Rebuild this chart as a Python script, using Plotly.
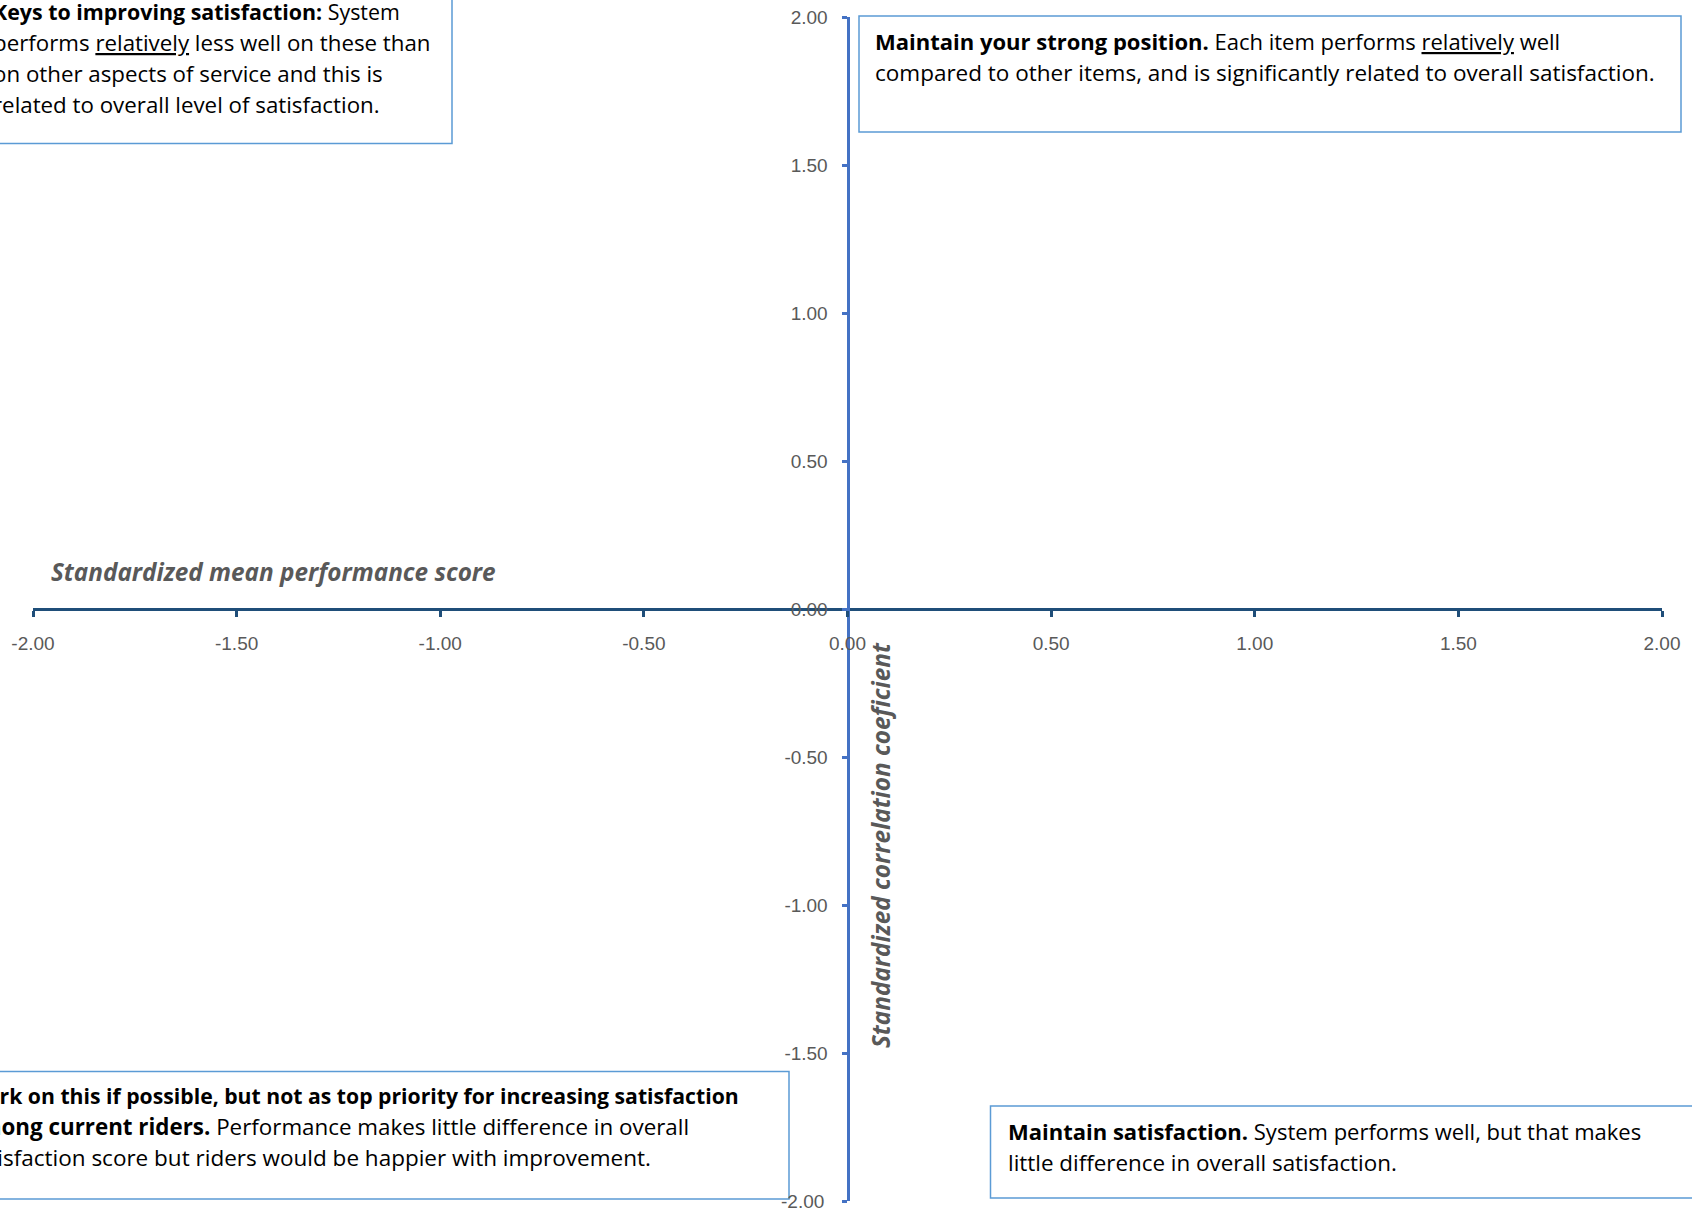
import plotly.graph_objects as go

# Axis scales: standardized scores on both axes
x_ticks = [-2.0, -1.5, -1.0, -0.5, 0.0, 0.5, 1.0, 1.5, 2.0]
y_ticks = [-2.0, -1.5, -1.0, -0.5, 0.0, 0.5, 1.0, 1.5, 2.0]
x_tick_labels = [f"{v:.2f}" for v in x_ticks]
y_tick_labels = [f"{v:.2f}" for v in y_ticks]

x_title = "Standardized mean performance score"
y_title = "Standardized correlation coeficient"

# Quadrant descriptions (one entry per text line)
quad_top_left = [
    "<b>Keys to improving satisfaction:</b> System",
    "performs <u>relatively</u> less well on these than",
    "on other aspects of service and this is",
    "related to overall level of satisfaction.",
]
quad_top_right = [
    "<b>Maintain your strong position.</b> Each item performs <u>relatively</u> well",
    "compared to other items, and is significantly related to overall satisfaction.",
]
quad_bottom_left = [
    "<b>Work on this if possible, but not as top priority for increasing satisfaction</b>",
    "<b>among current riders.</b> Performance makes little difference in overall",
    "satisfaction score but riders would be happier with improvement.",
]
quad_bottom_right = [
    "<b>Maintain satisfaction.</b> System performs well, but that makes",
    "little difference in overall satisfaction.",
]

W, H = 1692, 1208
ML, MR, MT, MB = 33, 30, 17, 7
PW, PH = W - ML - MR, H - MT - MB


def px(x):
    return (x - ML) / PW


def py(y):
    return (H - MB - y) / PH


GRAY = "#595959"
BOX = "#5B9BD5"
TEXT_FAMILY = "Open Sans, Liberation Sans, sans-serif"

fig = go.Figure()
fig.add_trace(go.Scatter(x=[], y=[], mode="markers", showlegend=False))

shapes = []
annotations = []


def add_box(x0, y0, x1, y1, lines, tx, ty0, dy, sizes):
    shapes.append(dict(
        type="rect", xref="paper", yref="paper",
        x0=px(x0), x1=px(x1), y0=py(y1), y1=py(y0),
        line=dict(color=BOX, width=1.5), fillcolor="white", layer="above",
    ))
    for i, (line, size) in enumerate(zip(lines, sizes)):
        annotations.append(dict(
            text=line, xref="paper", yref="paper",
            x=px(tx), y=py(ty0 + i * dy), xanchor="left", yanchor="middle",
            showarrow=False, align="left",
            font=dict(family=TEXT_FAMILY, size=size, color="#000000"),
        ))


tick_font = dict(family="Liberation Sans, Arial, sans-serif", size=19, color=GRAY)

# The lowest y tick label sits on the bottom edge of the figure; it is drawn
# as an annotation on the y scale so the plot area keeps its fixed margins.
annotations.append(dict(
    text=y_tick_labels[0], xref="paper", yref="y",
    x=px(826), y=y_ticks[0], xanchor="right", yanchor="middle",
    showarrow=False, font=tick_font,
))

add_box(-20, -20, 452, 143.5, quad_top_left, -9, 11, 31.3, [21.4, 22.3, 22.3, 22.3])
add_box(859, 16, 1681, 132, quad_top_right, 873, 41, 31.3, [22, 22.5])
add_box(-20, 1071.5, 789, 1199, quad_bottom_left, -36, 1095, 31.3, [21.2, 22.36, 22.5])
add_box(990.5, 1106, 1720, 1198, quad_bottom_right, 1006, 1131, 31.3, [22, 22.4])

# Axis titles placed next to the crossing axes
annotations.append(dict(
    text=f"<b><i>{x_title}</i></b>", xref="paper", yref="paper",
    x=px(49), y=py(571), xanchor="left", yanchor="middle", showarrow=False,
    font=dict(family="Open Sans, sans-serif", size=24.3, color=GRAY),
))
annotations.append(dict(
    text=f"<b><i>{y_title}</i></b>", xref="paper", yref="paper",
    x=px(880), y=py(845), xanchor="center", yanchor="middle", showarrow=False,
    textangle=-90,
    font=dict(family="Open Sans, sans-serif", size=24.3, color=GRAY),
))

fig.update_layout(
    width=W, height=H, autosize=False,
    margin=dict(l=ML, r=MR, t=MT, b=MB, pad=0),
    paper_bgcolor="white", plot_bgcolor="white",
    showlegend=False,
    xaxis=dict(
        range=[-2, 2], tickmode="array", tickvals=x_ticks, ticktext=x_tick_labels,
        anchor="free", position=0.5, side="bottom",
        showline=True, linecolor="#1F4E79", linewidth=3,
        ticks="outside", ticklen=6, tickwidth=3, tickcolor="#1F4E79",
        showgrid=False, zeroline=False, tickfont=tick_font, ticklabelstandoff=10,
    ),
    yaxis=dict(
        range=[-2, 2], tickmode="array", tickvals=y_ticks, ticktext=y_tick_labels,
        anchor="free", position=0.5, side="left",
        showline=True, linecolor="#4472C4", linewidth=3,
        ticks="outside", ticklen=5, tickwidth=3, tickcolor="#4472C4",
        showgrid=False, zeroline=False, tickfont=tick_font, ticklabelstandoff=10,
    ),
    shapes=shapes,
    annotations=annotations,
)

fig.write_html(
    "out.html",
    post_script=(
        "var gd = document.getElementById('{plot_id}');"
        "gd.style.overflow = 'hidden';"
    ),
)
